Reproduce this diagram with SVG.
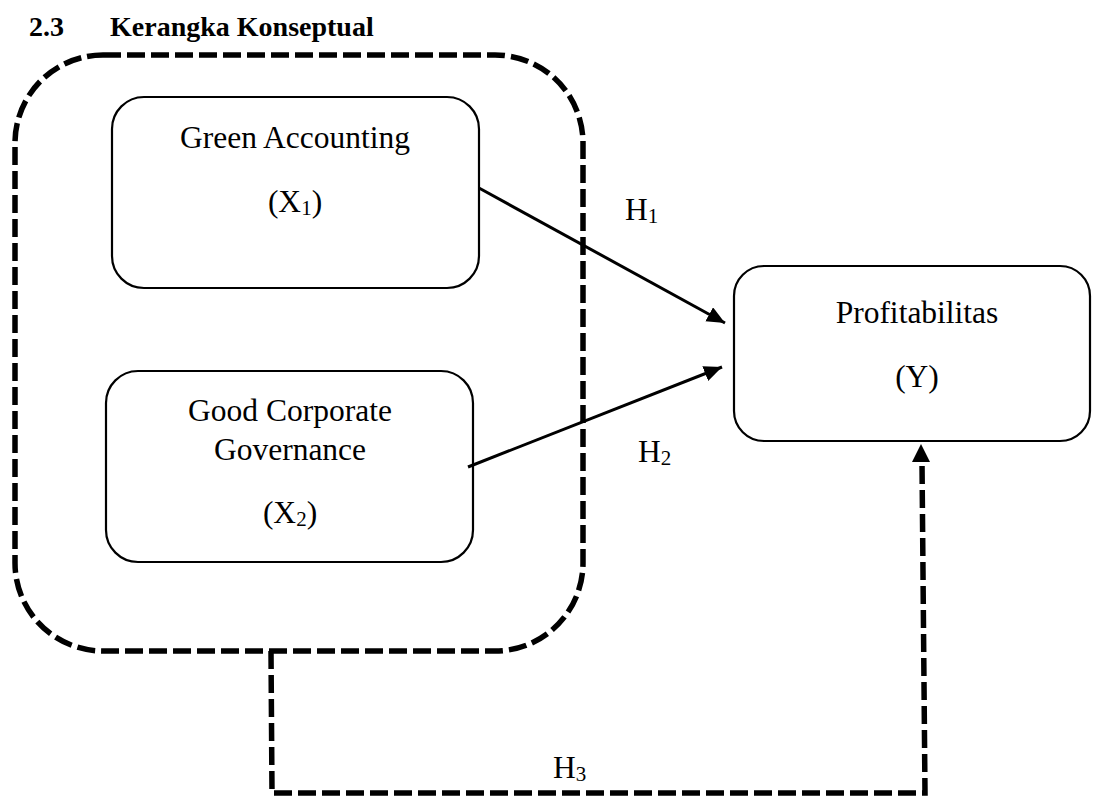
<svg xmlns="http://www.w3.org/2000/svg" width="1094" height="796" viewBox="0 0 1094 796">
<style>
text{font-family:"Liberation Serif","Times New Roman",serif;fill:#000}
.t{font-size:31.5px}
.sub{font-size:21px}
.title{font-size:28px;font-weight:bold}
.box{fill:#fff;stroke:#000;stroke-width:2.2}
.dash{fill:none;stroke:#000;stroke-width:5.5;stroke-dasharray:18 6}
.solid{fill:none;stroke:#000;stroke-width:3}
</style>
<defs>
<marker id="ah" markerUnits="userSpaceOnUse" markerWidth="20" markerHeight="18" refX="18" refY="8" orient="auto">
<path d="M0,0 L18,8 L0,16 Z" fill="#000"/>
</marker>
</defs>
<rect width="1094" height="796" fill="#fff"/>
<g id="title">
<text class="title" x="29" y="36">2.3</text>
<text class="title" x="110" y="36">Kerangka Konseptual</text>
</g>
<g id="group-box">
<rect class="dash" x="15" y="55" width="568" height="596" rx="88" ry="88"/>
</g>
<g id="node-x1">
<rect class="box" x="112" y="97" width="367" height="191" rx="32" ry="32"/>
<text class="t" x="295" y="148" text-anchor="middle">Green Accounting</text>
<text class="t" x="295" y="212" text-anchor="middle">(X<tspan class="sub" dy="3">1</tspan><tspan dy="-3">)</tspan></text>
</g>
<g id="node-x2">
<rect class="box" x="106" y="371" width="367" height="191" rx="32" ry="32"/>
<text class="t" x="290" y="421" text-anchor="middle">Good Corporate</text>
<text class="t" x="290" y="460" text-anchor="middle">Governance</text>
<text class="t" x="290" y="523" text-anchor="middle">(X<tspan class="sub" dy="3">2</tspan><tspan dy="-3">)</tspan></text>
</g>
<g id="node-y">
<rect class="box" x="734" y="266" width="356" height="175" rx="30" ry="30"/>
<text class="t" x="917" y="323" text-anchor="middle">Profitabilitas</text>
<text class="t" x="917" y="387" text-anchor="middle">(Y)</text>
</g>
<g id="connectors">
<line class="solid" x1="479" y1="188" x2="725" y2="323" marker-end="url(#ah)"/>
<line class="solid" x1="468" y1="467" x2="722" y2="367" marker-end="url(#ah)"/>
<path class="dash" d="M271,651 L272,793 L925,793 L922,462"/>
<path d="M912,462 L921,444 L930,462 Z" fill="#000"/>
</g>
<g id="labels">
<text class="t" x="625" y="220">H<tspan class="sub" dy="3">1</tspan></text>
<text class="t" x="638" y="462">H<tspan class="sub" dy="3">2</tspan></text>
<text class="t" x="553" y="778">H<tspan class="sub" dy="3">3</tspan></text>
</g>
</svg>
